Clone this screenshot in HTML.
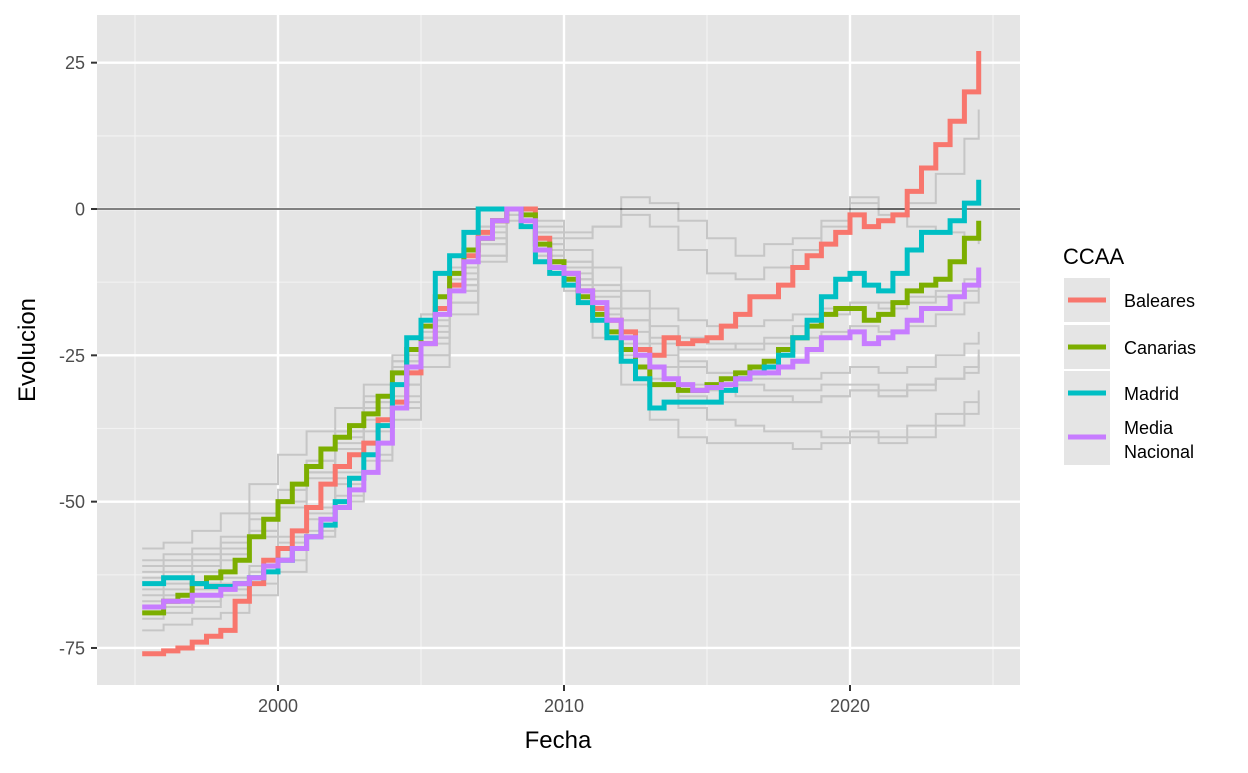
<!DOCTYPE html>
<html><head><meta charset="utf-8"><style>
body{margin:0;background:#fff;}
svg text{font-family:"Liberation Sans",Arial,sans-serif;}
</style></head><body>
<svg width="1248" height="768" viewBox="0 0 1248 768" xmlns="http://www.w3.org/2000/svg">
<rect x="0" y="0" width="1248" height="768" fill="#fff"/>
<rect x="97" y="15" width="923" height="670" fill="#e5e5e5"/>
<g id="grid"></g>
<g id="grey"></g>
<line id="zl" x1="97" x2="1020" stroke="#000" stroke-width="1.3" shape-rendering="crispEdges"/>
<g id="main"></g>
<g id="axes"></g>
<text x="558" y="748" font-size="24" text-anchor="middle">Fecha</text>
<text transform="translate(35,350) rotate(-90)" font-size="24" text-anchor="middle">Evolucion</text>
<g id="legend">
<text x="1063" y="264" font-size="22">CCAA</text>
</g>
</svg>
<script>
const halfYears = [1995.25];
for (let y = 1996; y <= 2024.5; y += 0.5) halfYears.push(y);
const baleares = [-76,-75.5,-75,-74,-73,-72,-67,-64,-60,-58,-55,-51,-47,-44,-42,-40,-36,-33,-28,-23,-17,-13,-8,-4,-2,0,0,-5,-9,-11,-14,-17,-19,-21,-24,-25,-22,-23,-22.5,-22,-20,-18,-15,-15,-13,-10,-8,-6,-4,-1,-3,-2,-1,3,7,11,15,20,27];
const canarias = [-69,-67,-66,-64,-63,-62,-60,-56,-53,-50,-47,-44,-41,-39,-37,-35,-32,-28,-24,-20,-15,-11,-7,-5,-2,0,-1,-6,-9,-12,-15,-18,-21,-24,-27,-30,-30,-31,-31,-30,-29,-28,-27,-26,-24,-22,-20,-18,-17,-17,-19,-18,-16,-14,-13,-12,-9,-5,-2];
const madrid = [-64,-63,-63,-64,-64.5,-64.5,-64,-63,-62,-60,-58,-56,-54,-50,-46,-42,-37,-30,-22,-19,-11,-8,-4,0,0,0,-3,-9,-11,-13,-16,-19,-22,-26,-29,-34,-33,-33,-33,-33,-31,-29,-28,-27,-25,-22,-19,-15,-12,-11,-13,-14,-11,-7,-4,-4,-2,1,5];
const media = [-68,-67,-67,-66,-66,-65,-64,-63,-61,-60,-58,-56,-53,-51,-48,-45,-40,-34,-27,-23,-18,-14,-9,-5,-2,0,-2,-7,-10,-11,-14,-16,-19,-22,-25,-27,-29,-30,-31,-30.5,-30,-29,-28,-28,-27,-26,-24,-22,-22,-21,-23,-22,-21,-19,-17,-17,-15,-13,-10];
const greyYears = [1995.25];
for (let y = 1996; y <= 2024; y++) greyYears.push(y);
greyYears.push(2024.5);
const grey1 = [-58,-57,-55,-52,-47,-42,-38,-34,-30,-25,-18,-10,-3,0,-3,-5,-3,2,1,-2,-5,-8,-6,-5,-2,2,0,1,6,12,17];
const grey2 = [-60,-59,-58,-56,-52,-48,-43,-38,-33,-27,-20,-12,-5,0,-6,-10,-15,-19,-22,-24,-24,-23,-22,-20,-18,-16,-16,-15,-14,-12,-11];
const grey3 = [-66,-65,-64,-63,-62,-58,-53,-47,-40,-32,-23,-14,-6,0,-8,-14,-22,-30,-36,-39,-40,-40,-40,-41,-40,-39,-40,-39,-37,-35,-33];
const grey4 = [-72,-71,-70,-69,-66,-62,-56,-50,-42,-34,-25,-16,-8,-1,-6,-11,-18,-24,-30,-34,-36,-37,-38,-38,-39,-38,-39,-37,-35,-33,-31];
const grey5 = [-62,-61,-60,-58,-55,-50,-45,-40,-34,-28,-21,-13,-6,0,-8,-13,-17,-21,-25,-27,-28,-29,-29,-29,-28,-27,-28,-27,-25,-23,-21];
const grey6 = [-69,-68,-67,-65,-62,-57,-52,-46,-40,-33,-25,-16,-8,-1,-4,-9,-14,-19,-23,-26,-28,-30,-31,-31,-30,-30,-31,-30,-29,-27,-25];
const grey7 = [-65,-64,-62,-60,-56,-51,-46,-41,-36,-30,-22,-14,-6,0,-5,-9,-13,-17,-20,-22,-23,-24,-23,-22,-21,-20,-21,-20,-18,-16,-14];
const grey8 = [-70,-69,-68,-66,-64,-60,-55,-49,-43,-36,-27,-18,-9,-2,-7,-12,-17,-23,-27,-30,-31,-32,-32,-33,-32,-31,-32,-30,-29,-28,-27];
const grey9 = [-61,-60,-59,-57,-53,-48,-43,-38,-32,-26,-19,-11,-4,0,-4,-7,-10,-14,-17,-19,-20,-20,-19,-18,-17,-16,-17,-16,-15,-14,-13];
const grey10 = [-67,-66,-65,-64,-61,-56,-51,-45,-38,-30,-22,-13,-5,0,-7,-12,-19,-25,-29,-32,-33,-33,-33,-33,-32,-31,-32,-31,-29,-27,-24];
const grey11 = [-63,-62,-61,-59,-55,-50,-45,-39,-33,-26,-18,-10,-3,0,-2,-4,-3,-1,-3,-7,-11,-12,-10,-7,-3,1,-1,-3,-4,-5,-6];
const yTicks = [25,0,-25,-50,-75];
const yTickLabels = ["25","0","-25","-50","-75"];
const xTicks = [2000,2010,2020];
const xTickLabels = ["2000","2010","2020"];
const legendLabels = [["Baleares"],["Canarias"],["Madrid"],["Media","Nacional"]];

const NS = "http://www.w3.org/2000/svg";
const xs = v => 278 + (v - 2000) * 28.6;
const ys = v => 209 - v * 5.853;
function mk(tag, attrs, parent) {
  const e = document.createElementNS(NS, tag);
  for (const k in attrs) e.setAttribute(k, attrs[k]);
  parent.appendChild(e);
  return e;
}
function stepPath(xv, yv) {
  let d = "M" + xs(xv[0]).toFixed(1) + "," + ys(yv[0]).toFixed(1);
  for (let i = 1; i < xv.length; i++) {
    d += "H" + xs(xv[i]).toFixed(1) + "V" + ys(yv[i]).toFixed(1);
  }
  return d;
}
const grid = document.getElementById("grid");
[1995, 2005, 2015, 2025].forEach(v => {
  const l = mk("line", {x1: xs(v), x2: xs(v), y1: 15, y2: 685, stroke: "#f2f2f2", "stroke-width": 1.2}, grid);
  
  
});
[12.5, -12.5, -37.5, -62.5].forEach(v => {
  const l = mk("line", {x1: 97, x2: 1020, y1: ys(v), y2: ys(v), stroke: "#f2f2f2", "stroke-width": 1.2}, grid);
  
  
});
xTicks.forEach(v => {
  const l = mk("line", {x1: xs(v), x2: xs(v), y1: 15, y2: 685, stroke: "#fff", "stroke-width": 2.4}, grid);
  
  
});
yTicks.forEach(v => {
  const l = mk("line", {x1: 97, x2: 1020, y1: ys(v), y2: ys(v), stroke: "#fff", "stroke-width": 2.4}, grid);
  
  
});
const zl = document.getElementById("zl");
zl.setAttribute("y1", ys(0)); zl.setAttribute("y2", ys(0));
const greyG = document.getElementById("grey");
[grey1,grey2,grey3,grey4,grey5,grey6,grey7,grey8,grey9,grey10,grey11].forEach(s => {
  const p = mk("path", {d: stepPath(greyYears, s), fill: "none", stroke: "#c6c6c6", "stroke-width": 2}, greyG);
  
  
});
const mainG = document.getElementById("main");
const colors = ["#f8766d", "#7cae00", "#00bfc4", "#c77cff"];
const series = [baleares, canarias, madrid, media];
const names = ["baleares-line", "canarias-line", "madrid-line", "media-nacional-line"];
series.forEach((s, i) => {
  const p = mk("path", {d: stepPath(halfYears, s), fill: "none", stroke: colors[i], "stroke-width": 5}, mainG);
  
  
});
const axes = document.getElementById("axes");
yTicks.forEach((v, i) => {
  const t = mk("line", {x1: 91, x2: 97, y1: ys(v), y2: ys(v), stroke: "#333", "stroke-width": 2}, axes);
  
  
  const tx = mk("text", {x: 85, y: ys(v) + 6.5, "font-size": 18, fill: "#4d4d4d", "text-anchor": "end"}, axes);
  
  
  tx.textContent = yTickLabels[i];
});
xTicks.forEach((v, i) => {
  const t = mk("line", {x1: xs(v), x2: xs(v), y1: 685, y2: 691, stroke: "#333", "stroke-width": 2}, axes);
  
  
  const tx = mk("text", {x: xs(v), y: 712, "font-size": 18, fill: "#4d4d4d", "text-anchor": "middle"}, axes);
  
  
  tx.textContent = xTickLabels[i];
});
const lg = document.getElementById("legend");
const keyY = [300, 347, 393, 437];
legendLabels.forEach((lab, i) => {
  const r = mk("rect", {x: 1064, y: keyY[i] - 22, width: 46, height: i === 3 ? 50 : 44, fill: "#e5e5e5"}, lg);
  
  
  const l = mk("line", {x1: 1068, x2: 1106, y1: keyY[i], y2: keyY[i], stroke: colors[i], "stroke-width": 5}, lg);
  
  
  lab.forEach((s, j) => {
    const off = lab.length === 1 ? 7 : (j === 0 ? -3 : 21);
    const t = mk("text", {x: 1124, y: keyY[i] + off, "font-size": 18}, lg);
    
    
    t.textContent = s;
  });
});
</script>
</body></html>
